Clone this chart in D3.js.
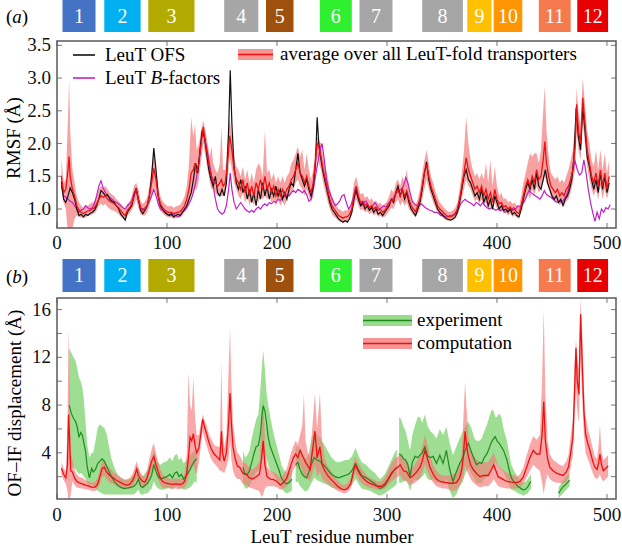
<!DOCTYPE html>
<html><head><meta charset="utf-8">
<script src="https://cdn.jsdelivr.net/npm/d3@7"></script>
<style>body{margin:0;background:#fff}svg{display:block}</style>
</head><body><div id="chart"></div>
<script>
// ---------------- DATA ----------------
const helixLabels = ["1","2","3","4","5","6","7","8","9","10","11","12"];
const helixStart = [5,43,83,152,190,239,275,332,373,397,438,473];
const helixEnd   = [35,76,125,183,215,268,305,369,395,423,467,501];
const helixColors = ["#4472c4","#00b0f0","#b3aa00","#a6a6a6","#9e500c","#2ef02e","#a6a6a6","#a6a6a6","#ffc000","#ff9500","#f57b4e","#e80000"];

const xTicks = [0,100,200,300,400,500];
const yTicksA = [1.0,1.5,2.0,2.5,3.0,3.5];
const yTicksB = [4,8,12,16];
const yMinorB = [2,6,10,14];

// Panel (a): RMSF — [residue, value]
const leutOFS = [[4,1.42],[6,1.15],[8,1.1],[10,1.2],[12,1.32],[14,1.25],[16,1.15],[18,1.0],[20,0.9],[22,0.92],[24,0.88],[26,0.92],[28,0.9],[30,0.93],[32,0.95],[34,0.98],[36,1.05],[38,1.15],[40,1.28],[42,1.25],[44,1.2],[46,1.22],[48,1.15],[50,1.12],[52,1.1],[54,1.05],[56,1.0],[58,0.92],[60,0.88],[62,0.83],[64,0.95],[66,1.0],[68,1.05],[70,1.2],[72,1.32],[74,1.15],[76,0.98],[78,0.93],[80,0.98],[82,1.05],[84,1.2],[86,1.5],[88,1.93],[90,1.6],[92,1.2],[94,1.05],[96,1.0],[98,0.95],[100,0.92],[102,0.9],[104,0.93],[106,0.88],[108,0.9],[110,0.92],[112,0.9],[114,0.95],[116,1.0],[118,1.05],[120,1.15],[122,1.25],[124,1.45],[126,1.7],[128,1.55],[130,1.9],[132,2.2],[134,2.1],[136,1.85],[138,1.6],[140,1.45],[142,1.35],[144,1.5],[146,1.25],[148,1.2],[150,1.3],[152,1.2],[154,1.4],[156,2.2],[157.5,3.12],[159,2.3],[161,1.65],[163,1.4],[165,1.3],[167,1.45],[169,1.25],[171,1.35],[173,1.15],[175,1.3],[177,1.1],[179,1.25],[181,1.05],[183,1.3],[185,1.15],[187,1.4],[189,1.2],[191,1.35],[193,1.15],[195,1.3],[197,1.2],[199,1.35],[201,1.2],[203,1.3],[205,1.15],[207,1.25],[209,1.15],[211,1.3],[213,1.4],[215,1.35],[217,1.6],[219,1.85],[221,1.55],[223,1.45],[225,1.35],[227,1.45],[229,1.3],[231,1.2],[233,1.35],[235,1.7],[236.5,2.4],[238,2.0],[240,1.75],[242,1.55],[244,1.4],[246,1.25],[248,1.1],[250,1.0],[252,0.95],[254,0.9],[256,0.85],[258,0.82],[260,0.8],[262,0.82],[264,0.8],[266,0.85],[268,0.95],[270,1.15],[272,1.3],[274,1.15],[276,1.05],[278,1.1],[280,1.0],[282,1.05],[284,0.98],[286,1.02],[288,0.95],[290,1.0],[292,0.92],[294,0.95],[296,0.9],[298,0.95],[300,1.0],[302,1.05],[304,1.15],[306,1.1],[308,1.25],[310,1.35],[312,1.2],[314,1.3],[316,1.15],[318,1.25],[320,1.1],[322,1.0],[324,0.95],[326,0.9],[328,1.0],[330,1.1],[332,1.3],[334,1.55],[336,1.72],[338,1.45],[340,1.3],[342,1.2],[344,1.1],[346,1.0],[348,0.95],[350,0.92],[352,0.88],[354,0.85],[356,0.84],[358,0.83],[360,0.85],[362,0.88],[364,0.95],[366,1.1],[368,1.3],[370,1.5],[372,1.6],[374,1.45],[376,1.4],[378,1.3],[380,1.2],[382,1.25],[384,1.15],[386,1.3],[388,1.1],[390,1.2],[392,1.05],[394,1.15],[396,1.0],[398,1.2],[400,1.1],[402,1.0],[404,1.05],[406,0.98],[408,1.0],[410,0.95],[412,1.0],[414,0.92],[416,0.95],[418,0.9],[420,0.88],[422,1.0],[424,1.15],[426,1.3],[428,1.4],[430,1.3],[432,1.45],[434,1.3],[436,1.55],[438,1.35],[440,1.3],[442,1.45],[444,1.6],[446,1.4],[448,1.3],[450,1.2],[452,1.15],[454,1.2],[456,1.1],[458,1.15],[460,1.05],[462,1.15],[464,1.2],[466,1.3],[468,1.45],[470,1.8],[472,2.55],[474,2.1],[476,1.9],[478,2.55],[480,2.2],[482,1.8],[484,1.65],[486,1.45],[488,1.3],[490,1.45],[492,1.25],[494,1.55],[496,1.3],[498,1.5],[500,1.25],[502,1.4]];

const leutBfactors = [[4,1.35],[6,1.2],[8,1.18],[10,1.15],[12,1.12],[14,1.1],[16,1.05],[18,1.0],[20,0.95],[22,0.98],[24,1.0],[26,1.05],[28,1.02],[30,1.0],[32,1.02],[34,1.08],[36,1.2],[38,1.35],[40,1.43],[42,1.32],[44,1.25],[46,1.2],[48,1.18],[50,1.15],[52,1.12],[54,1.1],[56,1.08],[58,1.05],[60,1.02],[62,1.0],[64,1.05],[66,1.08],[68,1.12],[70,1.25],[72,1.3],[74,1.12],[76,1.02],[78,1.0],[80,1.02],[82,1.05],[84,1.12],[86,1.2],[88,1.3],[90,1.2],[92,1.08],[94,1.0],[96,0.98],[98,0.95],[100,0.93],[102,0.92],[104,0.9],[106,0.92],[108,0.9],[110,0.88],[112,0.9],[114,0.95],[116,0.98],[118,1.02],[120,1.08],[122,1.15],[124,1.25],[126,1.4],[128,1.6],[130,1.85],[132,2.15],[134,2.1],[136,1.95],[138,1.75],[140,1.55],[142,1.35],[144,1.15],[146,1.0],[148,0.95],[150,0.92],[152,0.95],[154,1.05],[156,1.3],[157.5,1.55],[159,1.3],[161,1.1],[163,1.0],[165,1.05],[167,1.1],[169,1.05],[171,1.0],[173,0.97],[175,0.95],[177,0.98],[179,0.95],[181,1.0],[183,1.03],[185,1.0],[187,1.05],[189,1.08],[191,1.05],[193,1.1],[195,1.08],[197,1.12],[199,1.1],[201,1.15],[203,1.13],[205,1.18],[207,1.2],[209,1.22],[211,1.2],[213,1.25],[215,1.28],[217,1.25],[219,1.3],[221,1.28],[223,1.25],[225,1.28],[227,1.22],[229,1.12],[231,1.15],[233,1.3],[235,1.5],[237,1.7],[239,1.9],[241,2.0],[243,1.75],[245,1.45],[247,1.3],[249,1.2],[251,1.12],[253,1.05],[255,1.08],[257,1.12],[259,1.2],[261,1.22],[263,1.1],[265,1.0],[267,1.05],[269,1.15],[271,1.3],[273,1.2],[275,1.1],[277,1.05],[279,1.1],[281,1.12],[283,1.05],[285,1.0],[287,1.05],[289,1.1],[291,1.05],[293,1.0],[295,1.02],[297,1.05],[299,1.03],[301,1.08],[303,1.12],[305,1.15],[307,1.2],[309,1.25],[311,1.28],[313,1.3],[315,1.35],[317,1.48],[319,1.4],[321,1.25],[323,1.12],[325,1.08],[327,1.05],[329,1.05],[331,1.08],[333,1.05],[335,1.02],[337,1.0],[339,0.98],[341,0.97],[343,0.95],[345,0.95],[347,0.93],[349,0.9],[351,0.9],[353,0.88],[355,0.88],[357,0.9],[359,0.9],[361,0.92],[363,0.95],[365,1.0],[367,1.08],[369,1.12],[371,1.15],[373,1.12],[375,1.1],[377,1.08],[379,1.05],[381,1.1],[383,1.08],[385,1.05],[387,1.1],[389,1.05],[391,1.02],[393,1.0],[395,1.02],[397,1.0],[399,0.98],[401,1.0],[403,0.97],[405,1.0],[407,0.95],[409,0.97],[411,1.0],[413,0.98],[415,1.02],[417,1.0],[419,1.05],[421,1.03],[423,1.08],[425,1.12],[427,1.2],[429,1.28],[431,1.25],[433,1.22],[435,1.2],[437,1.18],[439,1.15],[441,1.2],[443,1.28],[445,1.22],[447,1.2],[449,1.18],[451,1.15],[453,1.12],[455,1.1],[457,1.12],[459,1.1],[461,1.15],[463,1.2],[465,1.3],[467,1.45],[469,1.6],[471,1.73],[473,1.6],[475,1.52],[477,1.55],[479,1.75],[481,1.55],[483,1.3],[485,1.1],[487,0.95],[489,0.81],[491,0.95],[493,0.85],[495,1.0],[497,0.95],[499,1.02],[501,1.0],[503,1.07]];

// [residue, mean, low, high]
const avgLeuTfold = [[4,1.5,1.3,1.78],[6,1.25,1.1,1.4],[8,1.3,1.0,1.45],[10,1.6,0.6,2.4],[11,1.8,0.5,3.0],[12,1.5,0.6,2.2],[14,1.3,0.7,1.6],[16,1.2,0.85,1.4],[18,1.05,0.9,1.2],[20,0.98,0.88,1.1],[22,0.95,0.87,1.05],[24,0.93,0.86,1.02],[26,0.95,0.87,1.05],[28,0.97,0.9,1.05],[30,0.98,0.9,1.08],[32,1.0,0.92,1.1],[34,1.02,0.93,1.12],[36,1.08,0.98,1.2],[38,1.15,1.05,1.3],[40,1.2,1.08,1.35],[42,1.18,1.05,1.32],[44,1.2,1.08,1.35],[46,1.15,1.03,1.3],[48,1.12,1.0,1.25],[50,1.1,0.98,1.22],[52,1.08,0.97,1.2],[54,1.05,0.95,1.15],[56,1.02,0.92,1.12],[58,0.97,0.88,1.08],[60,0.93,0.85,1.02],[62,0.9,0.82,1.0],[64,0.98,0.9,1.08],[66,1.02,0.93,1.12],[68,1.08,0.98,1.2],[70,1.2,1.05,1.35],[72,1.3,1.15,1.4],[74,1.15,1.02,1.3],[76,1.02,0.92,1.12],[78,0.98,0.9,1.08],[80,1.0,0.9,1.12],[82,1.05,0.95,1.18],[84,1.2,1.05,1.35],[86,1.4,1.2,1.6],[88,1.62,1.35,1.85],[90,1.45,1.25,1.65],[92,1.2,1.05,1.35],[94,1.08,0.97,1.2],[96,1.02,0.93,1.12],[98,0.98,0.9,1.08],[100,0.96,0.88,1.05],[102,0.95,0.87,1.04],[104,0.95,0.87,1.05],[106,0.93,0.85,1.02],[108,0.94,0.86,1.04],[110,0.95,0.87,1.05],[112,0.96,0.87,1.07],[114,1.0,0.9,1.12],[116,1.05,0.95,1.2],[118,1.15,1.0,1.35],[120,1.3,1.1,1.7],[122,1.55,1.2,2.4],[124,1.6,1.25,2.1],[125.5,1.7,1.3,2.3],[127,1.55,1.3,1.9],[129,1.7,1.45,2.0],[131,2.0,1.75,2.2],[133,2.25,2.0,2.35],[135,2.0,1.8,2.2],[137,1.8,1.6,2.0],[139,1.6,1.4,1.8],[140.5,1.5,1.3,1.95],[142,1.45,1.3,1.7],[144,1.4,1.25,1.6],[146,1.35,1.2,1.55],[148,1.4,1.2,1.7],[149.5,1.45,1.2,2.25],[151,1.35,1.2,1.6],[153,1.4,1.25,1.6],[155,1.7,1.45,2.0],[157,2.12,1.8,2.4],[159,1.9,1.6,2.1],[161,1.6,1.4,1.8],[163,1.45,1.3,1.65],[165,1.4,1.2,1.6],[167,1.3,1.15,1.5],[169,1.45,1.25,1.65],[171,1.25,1.1,1.45],[173,1.4,1.2,1.6],[175,1.2,1.05,1.4],[177,1.35,1.15,1.55],[179,1.2,1.05,1.4],[181,1.4,1.2,1.6],[183,1.3,1.1,1.7],[185,1.45,1.2,1.65],[187,1.3,1.15,1.5],[189,1.5,1.2,2.2],[191,1.3,1.15,1.55],[193,1.4,1.2,1.6],[195,1.25,1.1,1.45],[197,1.35,1.15,1.55],[199,1.2,1.05,1.4],[201,1.3,1.15,1.5],[203,1.2,1.05,1.4],[205,1.3,1.12,1.5],[207,1.2,1.05,1.4],[209,1.3,1.15,1.5],[211,1.35,1.2,1.55],[213,1.45,1.25,1.7],[215,1.5,1.3,1.75],[217,1.6,1.4,1.85],[219,1.7,1.45,1.95],[221,1.55,1.35,1.8],[223,1.5,1.3,1.9],[225,1.4,1.2,1.6],[227,1.5,1.3,1.85],[229,1.35,1.2,1.6],[231,1.25,1.1,1.45],[233,1.4,1.2,1.6],[235,1.75,1.5,1.95],[236.5,2.0,1.8,2.1],[238,1.95,1.7,2.05],[240,1.8,1.6,2.0],[242,1.6,1.4,1.8],[244,1.45,1.25,1.65],[246,1.3,1.12,1.5],[248,1.15,1.0,1.3],[250,1.05,0.92,1.2],[252,1.0,0.88,1.12],[254,0.95,0.85,1.05],[256,0.9,0.82,1.0],[258,0.88,0.8,0.98],[260,0.86,0.78,0.96],[262,0.88,0.8,0.98],[264,0.88,0.8,0.98],[266,0.92,0.84,1.02],[268,1.0,0.9,1.12],[270,1.2,1.05,1.4],[272,1.35,1.15,1.5],[274,1.2,1.05,1.35],[276,1.1,0.98,1.22],[278,1.12,1.0,1.25],[280,1.05,0.95,1.17],[282,1.08,0.97,1.2],[284,1.02,0.92,1.13],[286,1.05,0.95,1.17],[288,1.0,0.9,1.1],[290,1.03,0.93,1.13],[292,0.98,0.88,1.08],[294,1.0,0.9,1.1],[296,0.95,0.87,1.05],[298,0.98,0.88,1.08],[300,1.02,0.92,1.12],[302,1.08,0.97,1.2],[304,1.15,1.02,1.3],[306,1.12,1.0,1.25],[308,1.25,1.1,1.4],[310,1.3,1.15,1.45],[312,1.2,1.05,1.35],[314,1.3,1.12,1.5],[316,1.2,1.05,1.4],[318,1.28,1.1,1.6],[320,1.15,1.0,1.3],[322,1.05,0.95,1.18],[324,1.0,0.9,1.1],[326,0.96,0.88,1.06],[328,1.05,0.93,1.15],[330,1.15,1.0,1.3],[332,1.35,1.15,1.55],[334,1.55,1.3,1.75],[336,1.68,1.45,1.9],[338,1.5,1.3,1.7],[340,1.35,1.2,1.5],[342,1.25,1.1,1.4],[344,1.15,1.02,1.28],[346,1.05,0.95,1.18],[348,1.0,0.9,1.1],[350,0.97,0.88,1.06],[352,0.93,0.85,1.02],[354,0.9,0.83,0.98],[356,0.88,0.82,0.96],[358,0.88,0.82,0.96],[360,0.9,0.83,0.98],[362,0.93,0.85,1.02],[364,1.0,0.9,1.1],[366,1.15,1.0,1.3],[368,1.35,1.15,1.55],[370,1.55,1.3,1.9],[372,1.78,1.45,2.4],[374,1.6,1.35,2.0],[376,1.5,1.3,1.75],[378,1.4,1.2,1.6],[380,1.3,1.12,1.5],[382,1.35,1.15,1.55],[384,1.25,1.08,1.45],[386,1.35,1.15,1.55],[388,1.2,1.05,1.45],[390,1.3,1.1,1.7],[392,1.15,1.0,1.4],[394,1.25,1.05,1.75],[396,1.1,0.98,1.35],[398,1.3,1.1,1.65],[400,1.15,1.0,1.35],[402,1.08,0.97,1.2],[404,1.1,0.98,1.25],[406,1.03,0.93,1.15],[408,1.05,0.95,1.17],[410,1.0,0.9,1.1],[412,1.03,0.93,1.13],[414,0.98,0.88,1.08],[416,1.0,0.9,1.1],[418,0.95,0.87,1.05],[420,0.93,0.85,1.03],[422,1.05,0.95,1.2],[424,1.2,1.05,1.4],[426,1.35,1.15,1.55],[428,1.45,1.25,1.7],[430,1.35,1.15,1.85],[432,1.5,1.3,1.8],[434,1.4,1.2,1.85],[436,1.6,1.35,1.85],[438,1.45,1.25,1.7],[440,1.5,1.3,1.9],[442,1.75,1.4,2.5],[443.5,2.03,1.5,2.87],[445,1.7,1.4,2.2],[447,1.5,1.3,1.8],[449,1.35,1.2,1.55],[451,1.3,1.15,1.5],[453,1.25,1.1,1.45],[455,1.3,1.12,1.5],[457,1.2,1.05,1.4],[459,1.25,1.1,1.45],[461,1.2,1.05,1.4],[463,1.3,1.12,1.5],[465,1.35,1.15,1.6],[467,1.45,1.25,1.75],[469,1.6,1.4,1.9],[471,1.95,1.6,2.3],[472.5,2.6,2.2,2.85],[474,2.2,1.9,2.5],[476,2.0,1.75,2.3],[478,2.7,2.3,3.0],[480,2.3,2.0,2.6],[482,1.9,1.65,2.2],[484,1.7,1.45,2.0],[486,1.5,1.3,1.75],[488,1.4,1.2,1.65],[490,1.55,1.3,1.9],[492,1.35,1.15,1.6],[494,1.6,1.35,1.9],[496,1.35,1.15,1.6],[498,1.55,1.3,1.85],[500,1.3,1.15,1.55],[502,1.5,1.3,1.75]];

// Panel (b): OF–IF displacement — [residue, mean, low, high]; null rows = gaps
const computation = [[4,2.7,2.2,3.2],[6,2.2,1.7,2.7],[8,1.9,1.4,2.4],[9.5,3.0,0.8,6.0],[10.5,7.2,0.0,14.4],[11.5,5.0,0.0,10.0],[12.5,2.5,0.5,4.0],[14,2.4,1.6,3.4],[16,1.9,1.3,2.6],[18,1.6,1.1,2.2],[20,1.5,1.05,2.0],[23,1.4,1.0,1.9],[26,1.3,0.95,1.7],[29,1.2,0.9,1.6],[32,1.1,0.8,1.5],[35,1.15,0.8,1.6],[37,1.4,1.0,1.9],[39,2.0,1.4,2.6],[41,2.7,2.0,3.3],[43,2.8,2.1,3.4],[45,2.4,1.8,3.0],[48,2.1,1.5,2.7],[51,1.9,1.4,2.4],[54,1.7,1.25,2.2],[57,1.55,1.1,2.0],[60,1.4,1.0,1.85],[63,1.3,0.95,1.7],[66,1.35,1.0,1.8],[69,1.7,1.2,2.3],[71,2.2,1.6,2.9],[72.5,2.65,1.9,3.3],[74,2.1,1.5,2.8],[76,1.8,1.3,2.3],[78,1.6,1.1,2.1],[80,1.55,1.1,2.0],[82,1.9,1.3,2.6],[84,2.6,1.9,3.5],[86,3.3,2.5,4.3],[88,3.7,2.8,4.8],[90,3.0,2.2,4.0],[92,2.4,1.7,3.2],[94,1.9,1.3,2.6],[96,1.6,1.1,2.2],[99,1.45,1.05,1.9],[102,1.4,1.0,1.85],[105,1.35,1.0,1.8],[108,1.4,1.0,1.85],[111,1.35,0.95,1.8],[114,1.4,1.0,1.85],[116,1.6,1.1,2.3],[118,2.3,1.4,4.0],[119.5,3.6,1.9,10.7],[121,5.3,2.5,8.0],[122.5,5.0,2.8,7.5],[124,5.6,3.0,10.3],[125.5,4.6,2.5,7.0],[127,4.0,2.2,5.5],[129,4.4,3.2,5.5],[131,5.8,4.8,6.6],[132.5,6.8,5.8,7.2],[134,6.2,5.2,6.8],[136,5.6,4.6,6.3],[138,4.9,4.0,5.6],[140,4.4,3.5,5.2],[142,4.0,3.2,4.8],[144,3.8,3.0,4.6],[146,3.6,2.8,4.5],[148,3.4,2.5,4.5],[149.5,5.8,2.5,11.6],[150.5,4.0,2.4,6.0],[152,3.3,2.3,4.4],[154,4.0,2.8,5.5],[156,6.5,3.5,11.0],[157.3,9.0,5.0,14.4],[158.5,6.5,3.5,10.0],[160,4.5,2.5,6.5],[162,3.5,2.0,5.0],[164,2.9,1.8,4.0],[166,2.8,1.8,3.8],[169,2.3,1.4,3.2],[172,2.2,1.3,3.1],[175,1.9,1.1,2.8],[178,1.8,1.0,2.6],[181,2.0,0.9,2.9],[184,2.2,0.8,3.2],[186,3.5,0.3,6.0],[187.5,5.0,0.5,8.6],[189,3.0,1.0,5.0],[191,2.0,1.2,2.9],[194,1.8,1.2,2.5],[197,1.75,1.2,2.4],[200,1.6,1.1,2.2],[203,1.3,0.9,1.9],[206,1.5,1.0,2.2],[209,1.9,1.2,2.7],[212,2.8,1.8,3.8],[215,3.6,2.6,4.6],[217,3.9,2.9,5.0],[219,3.6,2.6,4.7],[221,4.2,3.0,5.5],[223,3.8,2.5,6.3],[224.5,3.5,2.0,8.9],[226,3.2,2.0,5.0],[228,2.9,1.8,4.0],[230,2.6,1.6,3.8],[232,4.0,2.2,6.0],[234.5,5.8,3.0,9.0],[236.5,3.6,2.0,6.0],[239,4.5,2.4,9.0],[241,3.0,1.8,5.0],[243.5,2.5,1.6,3.5],[246,2.1,1.4,2.9],[249,1.8,1.2,2.5],[252,1.5,1.0,2.1],[255,1.2,0.8,1.7],[258,1.0,0.7,1.4],[261,0.9,0.6,1.3],[264,1.0,0.7,1.4],[267,1.4,1.0,1.9],[269,2.2,1.6,2.9],[271,3.0,2.3,3.7],[273,2.6,2.0,3.3],[275.5,2.2,1.6,2.9],[279,1.8,1.3,2.4],[283,1.5,1.1,2.0],[287,1.35,1.0,1.8],[291,1.2,0.9,1.6],[295,1.2,0.9,1.6],[298,1.4,1.0,1.9],[301,1.8,1.3,2.5],[304,2.3,1.6,3.1],[307,2.6,1.8,3.5],[310,2.8,2.0,3.7],[312,3.0,2.1,4.0],[315,2.5,1.7,3.4],[318,2.4,1.6,3.3],[321,1.9,1.3,2.6],[324,2.1,1.4,2.9],[327,2.4,1.6,3.3],[330,2.8,1.9,3.8],[332,3.3,2.3,4.5],[334.5,4.2,3.0,5.5],[336.5,3.6,2.5,4.8],[339,2.8,1.9,3.8],[342,2.2,1.5,3.0],[345,1.8,1.2,2.5],[348,1.6,1.1,2.2],[351,1.55,1.0,2.1],[354,1.5,1.0,2.1],[357,1.45,0.9,2.1],[360,1.45,0.8,2.2],[363,1.5,0.9,2.3],[366,1.9,1.2,2.9],[368,2.6,1.6,4.0],[369.5,3.8,2.0,7.0],[371,5.8,3.0,10.0],[372.5,4.5,2.5,7.5],[374,3.7,2.2,5.5],[376,3.0,1.8,4.3],[378.5,2.6,1.5,3.8],[381,2.3,1.3,3.5],[384.5,2.0,1.1,3.2],[388,2.1,1.2,3.2],[392,2.1,1.2,3.2],[395,2.6,1.5,3.7],[397,3.0,1.8,4.0],[399,2.5,1.5,3.5],[401,2.0,1.2,3.0],[405,1.8,1.1,2.6],[409,1.6,1.0,2.3],[413,1.55,1.0,2.2],[418,1.5,1.0,2.0],[421,1.6,1.1,2.2],[424,2.0,1.4,2.8],[427,2.8,1.9,3.8],[430,3.6,2.5,4.7],[433,4.2,3.0,5.4],[436,3.9,2.7,5.1],[439,3.9,2.5,5.5],[441,5.5,1.5,10.0],[442.5,8.3,0.5,16.0],[444,5.0,1.5,9.0],[446,3.5,2.2,5.0],[448,2.8,1.8,3.9],[451,2.5,1.6,3.4],[454,2.3,1.5,3.2],[457,2.2,1.5,3.0],[460,2.1,1.4,2.9],[463,2.4,1.6,3.3],[465,2.8,1.9,3.8],[467,4.0,2.8,5.4],[469,5.3,3.8,6.8],[470.5,9.0,6.5,11.5],[471.8,12.8,9.5,13.5],[473,10.0,7.5,12.0],[474.5,8.9,6.5,11.0],[476,15.6,12.0,16.9],[477.5,11.5,8.5,14.0],[479,7.5,5.5,9.5],[480.5,5.6,4.0,7.2],[482.5,4.8,3.5,6.1],[484.5,4.2,3.0,5.4],[487,3.3,2.3,4.4],[489,2.8,1.9,3.7],[491,2.6,1.8,3.5],[492.5,3.2,2.0,4.8],[493.6,3.9,2.2,6.3],[495,3.0,1.8,4.2],[496.7,2.5,1.6,3.4],[499,2.7,1.8,3.6],[501,2.9,2.0,3.8]];

const experiment = [[11,8.0,3.5,12.8],[13,7.3,3.0,12.4],[15,6.9,2.8,12.0],[17,6.6,2.6,11.7],[18.5,6.1,2.4,11.0],[20,5.3,2.2,10.3],[21.5,5.7,2.3,10.0],[23,5.5,2.2,9.5],[24.5,4.8,2.0,8.4],[26,4.1,1.8,6.5],[27.5,2.8,1.5,4.7],[29.5,1.9,1.2,3.6],[31.5,2.7,1.4,4.0],[33,2.4,1.2,4.0],[35,2.6,1.0,5.0],[37,3.1,0.8,6.1],[39,3.3,0.7,6.4],[41,3.5,0.6,6.2],[43,3.3,0.5,6.1],[45,2.9,0.5,5.6],[47,2.5,0.5,4.7],[49.5,2.0,0.5,3.5],[52,1.6,0.5,2.8],[55,1.3,0.5,2.2],[58,1.1,0.5,1.9],[61,1.0,0.5,1.7],[64,1.05,0.5,1.8],[67,1.1,0.5,1.9],[70,1.2,0.5,2.1],[72,1.4,0.7,2.4],[74,1.8,0.9,2.8],[76,1.2,0.5,2.2],[78,1.1,0.5,2.0],[80,1.3,0.6,2.3],[82,1.4,0.6,2.5],[84,1.7,0.8,2.8],[86,2.1,1.0,3.3],[88,3.0,1.6,4.3],[90,2.4,1.2,3.6],[92,2.0,1.0,3.2],[94,1.8,0.9,3.0],[97,1.9,0.9,3.2],[100,2.0,1.0,3.3],[102.5,2.2,1.1,3.6],[105,1.9,0.9,3.3],[107,2.3,1.1,3.8],[109,2.4,1.2,3.9],[111,2.0,1.0,3.4],[113,2.2,1.1,3.6],[115,1.8,0.9,3.1],[117,2.0,0.9,3.3],[119,2.3,1.0,3.5],[121,2.6,1.1,3.8],[123,3.0,1.3,4.0],[125,3.3,1.6,4.2],[127,3.5,1.5,4.0],
[148,null,null,null],
[169,2.8,1.5,4.2],[171,2.2,1.0,3.6],[173,2.2,1.0,3.8],[175,2.5,1.2,4.2],[177,3.2,1.6,5.2],[179,3.9,2.0,6.0],[181,4.5,2.4,6.8],[183,4.6,2.5,7.2],[185,5.6,3.0,9.5],[186.5,7.3,3.8,11.5],[187.5,7.95,4.2,12.6],[189,7.5,4.0,11.0],[190.5,6.5,3.6,9.0],[192,5.3,3.0,8.0],[194,4.5,2.5,7.0],[196,4.0,2.3,6.0],[198,3.5,2.0,5.2],[200,3.0,1.7,4.5],[202,2.5,1.4,3.8],[204,1.9,1.0,3.0],[206,1.6,0.8,2.6],[208.5,1.4,0.6,2.3],[211,1.5,0.7,2.5],[213.5,1.8,0.8,2.9],
[215,null,null,null],
[217,3.0,1.5,4.4],[219,3.2,1.6,4.6],[221,2.6,1.2,4.2],[223,2.2,1.0,3.8],[225,2.0,0.8,3.6],[227,1.9,0.8,3.5],[229,2.4,1.0,4.0],[231.5,3.1,1.5,5.2],[234,3.6,1.9,6.0],[236.5,3.4,1.7,5.5],[239,3.3,1.6,5.3],[241,3.1,1.5,5.0],[243.5,2.9,1.4,4.6],[246,2.6,1.3,4.2],[249.5,2.2,1.1,3.6],[253,2.0,1.0,3.3],[256,1.9,0.9,3.2],[259,2.0,1.0,3.3],[262,2.1,1.0,3.4],[265,2.2,1.1,3.4],[268,2.5,1.3,3.7],[271.5,3.1,1.8,4.4],[274,2.6,1.4,3.8],[277,2.1,1.0,3.2],[281,1.9,0.9,3.0],[285,1.65,0.8,2.6],[289,1.4,0.6,2.3],[293.5,1.0,0.4,1.8],[296,1.1,0.5,2.0],[298,1.25,0.6,2.2],[301,1.7,0.8,2.8],[304,2.2,1.0,3.4],[307,2.6,1.2,4.0],[309,2.8,1.4,4.3],
[310,null,null,null],
[311,3.9,1.5,7.0],[313,3.8,1.5,6.8],[315,3.5,1.6,6.2],[317,3.4,1.7,5.8],[319,3.0,1.4,5.0],[321,2.0,0.8,4.2],[323,3.2,1.5,5.5],[325.5,3.7,1.8,6.3],[328,3.6,1.7,7.0],[330,3.8,1.8,7.0],[332,4.0,2.0,6.5],[334.5,4.5,2.3,7.2],[337,3.7,1.8,6.2],[339.5,3.6,1.7,5.8],[342,3.7,1.8,5.6],[345,3.1,1.4,5.2],[348,3.8,1.7,6.0],[351,3.1,1.3,5.5],[354,4.2,1.8,6.2],[357,2.6,0.8,4.8],[360,1.6,0.2,3.8],[363,2.4,0.5,4.5],[366,3.1,1.2,5.2],[369,3.6,1.6,5.8],[371,4.2,2.2,6.2],[374,4.8,2.8,6.6],[377,4.0,2.2,6.0],[379.5,3.4,1.8,5.2],[381.5,3.0,1.4,5.0],[384,3.2,1.5,5.0],[386,3.1,1.4,5.2],[388.5,3.6,1.8,5.8],[391,3.95,2.0,6.4],[393,4.4,2.4,7.0],[395,4.9,2.8,7.6],[397,5.2,3.0,7.5],[398.5,5.35,3.2,7.0],[400,5.0,3.0,7.0],[402,4.8,2.8,7.3],[404,4.5,2.6,7.0],[406,4.2,2.4,6.0],[409,3.4,1.8,5.0],[411,2.6,1.3,4.0],[413,1.9,0.9,3.0],[416,1.5,0.8,2.4],[419.5,1.15,0.6,1.9],[422,1.0,0.5,1.6],[424,0.9,0.4,1.5],[426,0.95,0.5,1.6],[428,1.15,0.6,1.8],[430,1.5,0.9,2.1],[431,1.6,1.0,2.2],
[440,null,null,null],
[456,0.6,0.2,1.1],[458,0.9,0.4,1.4],[460,1.15,0.6,1.7],[462,1.3,0.8,1.9],[464,1.5,1.0,2.1],[466,1.7,1.2,2.3]];

// ---------------- DRAW ----------------
const W = 622, H = 546;
const SERIF = "'Liberation Serif', 'Times New Roman', Times, 'DejaVu Serif', serif";
const svg = d3.select("#chart").append("svg").attr("width", W).attr("height", H)
  .attr("font-family", SERIF);
const FONT = 19;
const frameColor = "#5a5a5a";

const x = d3.scaleLinear().domain([0, 508.2]).range([57, 616]);
const panels = [
  {id:"a", y: d3.scaleLinear().domain([0.71, 3.566]).range([228, 41]), top:41, bottom:228,
   boxTop:0, boxBottom:32, label:"a", labelY:23, ticks:yTicksA, minor:[], fmt:d3.format(".1f"), xLabelY:249},
  {id:"b", y: d3.scaleLinear().domain([0.13, 16.97]).range([499, 298]), top:298, bottom:499,
   boxTop:259, boxBottom:292, label:"b", labelY:283, ticks:yTicksB, minor:yMinorB, fmt:d3.format("d"), xLabelY:521}
];

panels.forEach(p => {
  const hb = svg.append("g");
  helixLabels.forEach((lab, i) => {
    const x0 = x(helixStart[i]), x1 = x(helixEnd[i]);
    hb.append("rect").attr("x", x0).attr("y", p.boxTop).attr("width", x1 - x0)
      .attr("height", p.boxBottom - p.boxTop).attr("fill", helixColors[i]);
    hb.append("text").attr("x", (x0 + x1) / 2).attr("y", (p.boxTop + p.boxBottom) / 2 + 6.5)
      .attr("text-anchor", "middle").attr("fill", "#fff").attr("font-size", 20).text(lab);
  });
  const pl = svg.append("text").attr("x", 6).attr("y", p.labelY).attr("font-size", FONT);
  pl.append("tspan").text("(");
  pl.append("tspan").attr("font-style", "italic").text(p.label);
  pl.append("tspan").text(")");

  svg.append("clipPath").attr("id", "clip" + p.id).append("rect")
    .attr("x", 57).attr("y", p.top).attr("width", 616 - 57).attr("height", p.bottom - p.top);

  const tg = svg.append("g").attr("stroke", "#777").attr("stroke-width", 1);
  xTicks.forEach(t => {
    tg.append("line").attr("x1", x(t)).attr("x2", x(t)).attr("y1", p.bottom).attr("y2", p.bottom - 5);
    tg.append("line").attr("x1", x(t)).attr("x2", x(t)).attr("y1", p.top).attr("y2", p.top + 5);
  });
  p.ticks.concat(p.minor).forEach(t => {
    tg.append("line").attr("x1", 57).attr("x2", 62).attr("y1", p.y(t)).attr("y2", p.y(t));
    tg.append("line").attr("x1", 616).attr("x2", 611).attr("y1", p.y(t)).attr("y2", p.y(t));
  });
  xTicks.forEach(t => {
    svg.append("text").attr("x", x(t)).attr("y", p.xLabelY).attr("text-anchor", "middle")
      .attr("font-size", FONT).attr("fill", "#111").text(t);
  });
  p.ticks.forEach(t => {
    svg.append("text").attr("x", 51).attr("y", p.y(t) + 6).attr("text-anchor", "end")
      .attr("font-size", FONT).attr("fill", "#111").text(p.fmt(t));
  });
});

const pa = panels[0], pb = panels[1];
const ga = svg.append("g").attr("clip-path", "url(#clipa)");
const gb = svg.append("g").attr("clip-path", "url(#clipb)");

// Panel a
ga.append("path").datum(avgLeuTfold)
  .attr("d", d3.area().x(d => x(d[0])).y0(d => pa.y(d[2])).y1(d => pa.y(d[3])))
  .attr("fill", "#f47a7a").attr("fill-opacity", 0.7);
ga.append("path").datum(leutBfactors)
  .attr("d", d3.line().x(d => x(d[0])).y(d => pa.y(d[1])))
  .attr("fill", "none").attr("stroke", "#c020c8").attr("stroke-width", 1.2);
ga.append("path").datum(leutOFS)
  .attr("d", d3.line().x(d => x(d[0])).y(d => pa.y(d[1])))
  .attr("fill", "none").attr("stroke", "#111").attr("stroke-width", 1.2);
ga.append("path").datum(avgLeuTfold)
  .attr("d", d3.line().x(d => x(d[0])).y(d => pa.y(d[1])))
  .attr("fill", "none").attr("stroke", "#ee1010").attr("stroke-width", 1.3);

// Panel b
const defB = d => d[1] !== null;
gb.append("path").datum(experiment)
  .attr("d", d3.area().defined(defB).x(d => x(d[0])).y0(d => pb.y(d[2])).y1(d => pb.y(d[3])))
  .attr("fill", "#7ed36e").attr("fill-opacity", 0.75);
gb.append("path").datum(computation)
  .attr("d", d3.area().x(d => x(d[0])).y0(d => pb.y(d[2])).y1(d => pb.y(d[3])))
  .attr("fill", "#f47a7a").attr("fill-opacity", 0.65);
gb.append("path").datum(experiment)
  .attr("d", d3.line().defined(defB).x(d => x(d[0])).y(d => pb.y(d[1])))
  .attr("fill", "none").attr("stroke", "#1e8c1e").attr("stroke-width", 1.2);
gb.append("path").datum(computation)
  .attr("d", d3.line().x(d => x(d[0])).y(d => pb.y(d[1])))
  .attr("fill", "none").attr("stroke", "#ee1010").attr("stroke-width", 1.3);

panels.forEach(p => {
  svg.append("rect").attr("x", 57).attr("y", p.top).attr("width", 616 - 57).attr("height", p.bottom - p.top)
    .attr("fill", "none").attr("stroke", frameColor).attr("stroke-width", 1.5);
});

// Legends panel a
svg.append("line").attr("x1", 73).attr("x2", 95).attr("y1", 55).attr("y2", 55).attr("stroke", "#111").attr("stroke-width", 1.6);
svg.append("text").attr("x", 105).attr("y", 61).attr("font-size", FONT).text("LeuT OFS");
svg.append("line").attr("x1", 73).attr("x2", 95).attr("y1", 78).attr("y2", 78).attr("stroke", "#c020c8").attr("stroke-width", 1.6);
const tb = svg.append("text").attr("x", 105).attr("y", 84).attr("font-size", FONT);
tb.append("tspan").text("LeuT ");
tb.append("tspan").attr("font-style", "italic").text("B");
tb.append("tspan").text("-factors");
svg.append("rect").attr("x", 238).attr("y", 49).attr("width", 35).attr("height", 11).attr("fill", "#f47a7a").attr("fill-opacity", 0.8);
svg.append("line").attr("x1", 238).attr("x2", 273).attr("y1", 54.5).attr("y2", 54.5).attr("stroke", "#ee1010").attr("stroke-width", 1.6);
svg.append("text").attr("x", 280).attr("y", 60).attr("font-size", FONT).text("average over all LeuT-fold transporters");

// Legends panel b
svg.append("rect").attr("x", 363).attr("y", 315).attr("width", 49).attr("height", 11).attr("fill", "#7ed36e").attr("fill-opacity", 0.8);
svg.append("line").attr("x1", 363).attr("x2", 412).attr("y1", 320.5).attr("y2", 320.5).attr("stroke", "#1e8c1e").attr("stroke-width", 1.6);
svg.append("text").attr("x", 417).attr("y", 326).attr("font-size", FONT).text("experiment");
svg.append("rect").attr("x", 363).attr("y", 338).attr("width", 49).attr("height", 11).attr("fill", "#f47a7a").attr("fill-opacity", 0.8);
svg.append("line").attr("x1", 363).attr("x2", 412).attr("y1", 343.5).attr("y2", 343.5).attr("stroke", "#ee1010").attr("stroke-width", 1.6);
svg.append("text").attr("x", 417).attr("y", 349).attr("font-size", FONT).text("computation");

// Axis titles
svg.append("text").attr("transform", "translate(20,138) rotate(-90)").attr("text-anchor", "middle")
  .attr("font-size", FONT).text("RMSF (Å)");
svg.append("text").attr("transform", "translate(21,403) rotate(-90)").attr("text-anchor", "middle")
  .attr("font-size", FONT).text("OF–IF displacement (Å)");
svg.append("text").attr("x", 332).attr("y", 543).attr("text-anchor", "middle")
  .attr("font-size", FONT).text("LeuT residue number");
</script></body></html>
